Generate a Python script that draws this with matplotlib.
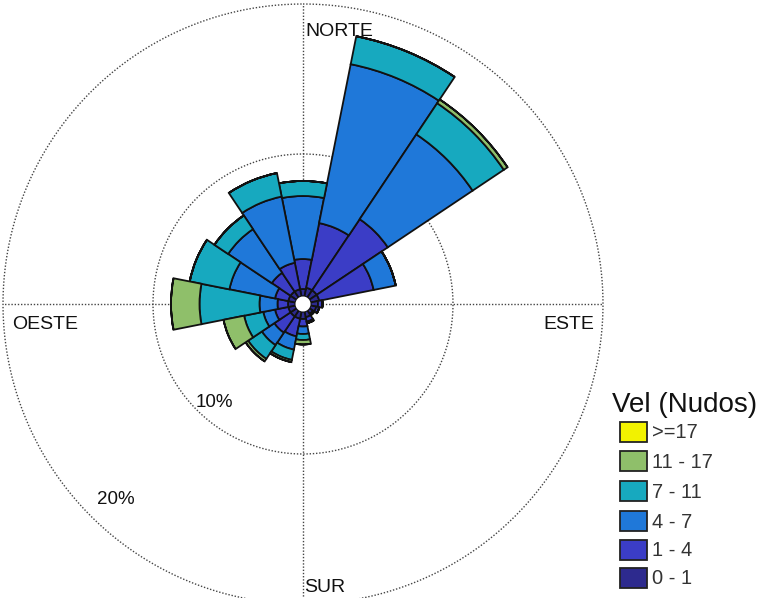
import numpy as np
import matplotlib
matplotlib.use("Agg")
import matplotlib.pyplot as plt
from matplotlib.patches import Rectangle

plt.rcParams['font.family'] = ['Liberation Sans', 'DejaVu Sans']

# ---- data (frequency %, per direction, per speed bin) ----
directions = ['N', 'NNE', 'NE', 'ENE', 'E', 'ESE', 'SE', 'SSE',
              'S', 'SSW', 'SW', 'WSW', 'W', 'WNW', 'NW', 'NNW']
dir_angles = [0, 22.5, 45, 67.5, 90, 112.5, 135, 157.5,
              180, 202.5, 225, 247.5, 270, 292.5, 315, 337.5]
speed_labels = ['0 - 1', '1 - 4', '4 - 7', '7 - 11', '11 - 17', '>=17']
speed_colors = ['#2d2a8e', '#3b3dc6', '#1f78d9', '#17a9bf', '#8fbf6a', '#f2f200']

f_0_1   = [0.5, 0.6, 0.6, 0.6, 0.5, 0.4, 0.3, 0.4, 0.5, 0.5, 0.5, 0.5, 0.5, 0.5, 0.5, 0.5]
f_1_4   = [2.0, 4.4, 5.7, 3.7, 0.3, 0.2, 0.1, 0.3, 0.5, 1.2, 1.3, 0.9, 0.7, 0.9, 1.5, 1.8]
f_4_7   = [4.2, 10.8, 6.8, 1.5, 0.0, 0.0, 0.0, 0.1, 0.5, 0.9, 1.0, 0.8, 1.2, 3.1, 3.5, 4.5]
f_7_11  = [1.0, 1.9, 2.5, 0.0, 0.0, 0.0, 0.0, 0.0, 0.4, 0.7, 1.1, 1.3, 4.0, 2.7, 1.1, 1.6]
f_11_17 = [0.0, 0.0, 0.3, 0.0, 0.0, 0.0, 0.0, 0.0, 0.3, 0.15, 0.2, 1.4, 1.9, 0.0, 0.0, 0.0]
f_17    = [0.0] * 16

series = [f_0_1, f_1_4, f_4_7, f_7_11, f_11_17, f_17]
ring_values = [10, 20]
ring_labels = ['10%', '20%']
cardinal_labels = ['NORTE', 'ESTE', 'SUR', 'OESTE']
legend_title = 'Vel (Nudos)'

# ---- figure ----
W, H = 765, 598
fig = plt.figure(figsize=(W / 100, H / 100), dpi=100)

cx, cy = 303, 304          # centre in pixels (from top)
rpx20 = 300                # pixels for 20%
rmax = 20.6
rad = rpx20 * rmax / 20
ax = fig.add_axes([(cx - rad) / W, (H - cy - rad) / H, 2 * rad / W, 2 * rad / H],
                  projection='polar')
ax.set_theta_zero_location('N')
ax.set_theta_direction(-1)
ax.set_ylim(0, rmax)
ax.axis('off')

hole = 0.5
theta = np.deg2rad(dir_angles)
width = np.deg2rad(22.5)
bottom = np.full(16, hole)
for vals, col in zip(series, speed_colors):
    vals = np.array(vals)
    ax.bar(theta, vals, width=width, bottom=bottom, color=col,
           edgecolor='#111111', linewidth=1.3, zorder=3, align='center')
    bottom = bottom + vals

# grid rings and cross
tt = np.linspace(0, 2 * np.pi, 721)
for rv in ring_values:
    ax.plot(tt, np.full_like(tt, rv), color='#444444', lw=1.0,
            ls=(0, (1, 1.3)), zorder=1, clip_on=False)
for a in [0, 90, 180, 270]:
    ax.plot([np.deg2rad(a)] * 2, [0, ring_values[-1]], color='#444444', lw=1.0,
            ls=(0, (1, 1.3)), zorder=1, clip_on=False)

# centre hole
ax.bar([0], [hole], width=2 * np.pi, bottom=0, color='white', edgecolor='none', zorder=4)

def ftext(x, y, s, **kw):
    fig.text(x / W, 1 - y / H, s, **kw)

tc = '#111111'
ftext(305, 35.5, cardinal_labels[0], ha='left', va='baseline', fontsize=14, color=tc)
ftext(594, 329, cardinal_labels[1], ha='right', va='baseline', fontsize=14, color=tc)
ftext(304, 592, cardinal_labels[2], ha='left', va='baseline', fontsize=14, color=tc)
ftext(12, 329, cardinal_labels[3], ha='left', va='baseline', fontsize=14, color=tc)
ftext(196, 407, ring_labels[0], ha='left', va='baseline', fontsize=13.5, color=tc)
ftext(97, 504, ring_labels[1], ha='left', va='baseline', fontsize=13.5, color=tc)

# legend
ftext(612, 412, legend_title, ha='left', va='baseline', fontsize=20, color=tc)
centers = [432, 461, 491, 521, 550, 578]
for lab, col, yc in zip(reversed(speed_labels), reversed(speed_colors), centers):
    fig.patches.append(Rectangle(((620) / W, 1 - (yc + 10) / H), 27 / W, 20 / H,
                                 transform=fig.transFigure, facecolor=col,
                                 edgecolor='#222222', lw=1.3))
    ftext(652, yc + 1, lab, ha='left', va='center', fontsize=14.5, color='#333333')

fig.savefig('out.png', dpi=100)
